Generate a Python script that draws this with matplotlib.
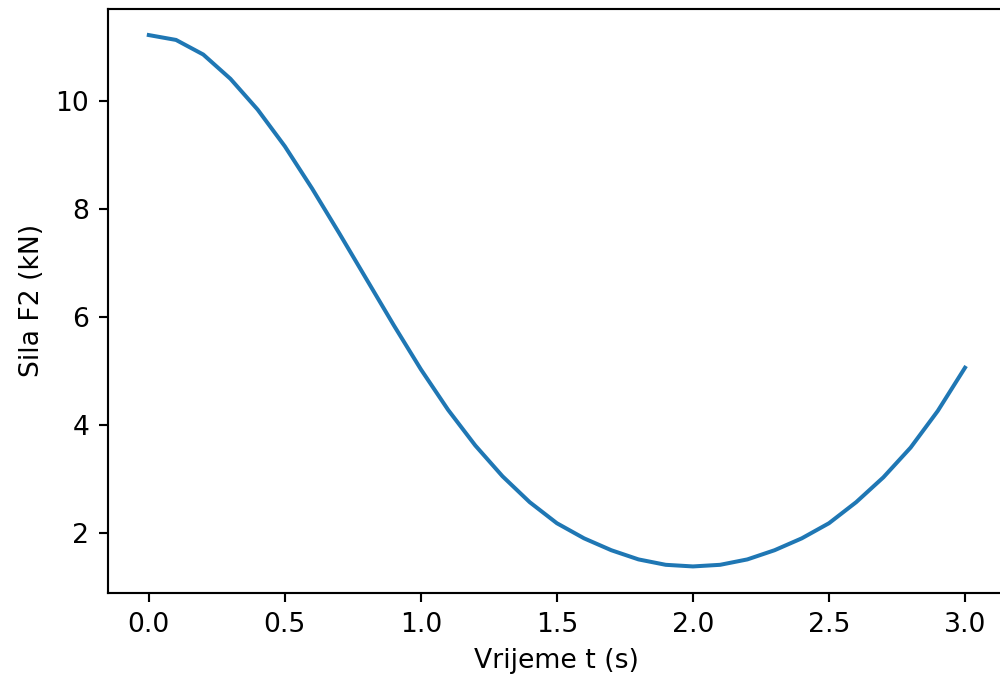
import matplotlib
matplotlib.use("Agg")
import matplotlib.pyplot as plt

t = [0.0, 0.1, 0.2, 0.3, 0.4, 0.5, 0.6, 0.7, 0.8, 0.9, 1.0,
     1.1, 1.2, 1.3, 1.4, 1.5, 1.6, 1.7, 1.8, 1.9, 2.0,
     2.1, 2.2, 2.3, 2.4, 2.5, 2.6, 2.7, 2.8, 2.9, 3.0]
F2 = [11.22, 11.13, 10.86, 10.41, 9.84, 9.16, 8.38, 7.55, 6.70, 5.85, 5.03,
      4.28, 3.62, 3.05, 2.57, 2.18, 1.90, 1.68, 1.51, 1.41, 1.38,
      1.41, 1.51, 1.68, 1.90, 2.18, 2.57, 3.03, 3.58, 4.26, 5.06]

DPI = 192
fig = plt.figure(figsize=(1000 / DPI, 688 / DPI), dpi=DPI)
ax = fig.add_axes([108 / 1000, (688 - 593) / 688, 897.8 / 1000, 584.5 / 688])
ax.plot(t, F2, color="#1f77b4", linewidth=1.5)
ax.set_xlabel("Vrijeme t (s)")
ax.set_ylabel("Sila F2 (kN)")
ax.set_xticks([0.0, 0.5, 1.0, 1.5, 2.0, 2.5, 3.0])
ax.set_yticks([2, 4, 6, 8, 10])
fig.savefig("out.png", dpi=DPI)
